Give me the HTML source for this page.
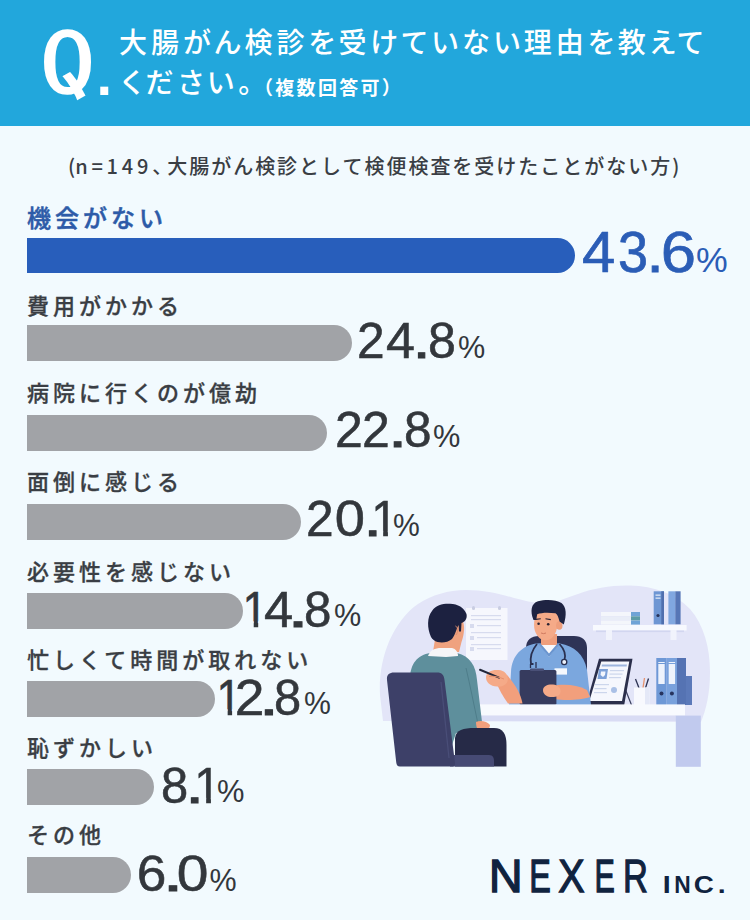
<!DOCTYPE html>
<html lang="ja">
<head>
<meta charset="utf-8">
<style>
*{margin:0;padding:0;box-sizing:border-box}
html,body{width:750px;height:920px;overflow:hidden}
body{background:#F2FAFE;position:relative;font-family:"Liberation Sans","Noto Sans CJK JP",sans-serif}
.hd{position:absolute;left:0;top:0;width:750px;height:125.5px;background:#22A7DC}
.q{position:absolute;left:39.5px;top:21px;font-family:"IPAGothic",sans-serif;font-size:86px;line-height:1;color:#fff;font-weight:400;-webkit-text-stroke:1.6px #fff;transform:scaleX(1.28);transform-origin:0 0}
.qd{position:absolute;left:96.6px;top:48px;font-family:"Liberation Sans",sans-serif;font-size:56px;font-weight:700;line-height:1;color:#fff}
.t1,.t2,.t3{position:absolute;color:#fff;font-family:"Noto Sans CJK JP",sans-serif;font-weight:500;white-space:nowrap;line-height:1}
.t1{left:119px;top:26.8px;font-size:28px;letter-spacing:4px;font-feature-settings:"palt" 1}
.t2{left:122px;top:67px;font-size:28px;letter-spacing:4.25px;font-feature-settings:"palt" 1}
.t3{left:254px;top:77px;font-size:19px;font-weight:700;letter-spacing:2.3px}
.sub{position:absolute;left:68px;top:156px;font-family:"Noto Sans CJK JP",sans-serif;font-weight:500;font-size:20px;letter-spacing:1.98px;color:#3a3e44;white-space:nowrap;line-height:1}
.sub .la{letter-spacing:3.8px}
.sub .p0{letter-spacing:0}
.sub .cm{letter-spacing:-5px}
.lbl{position:absolute;left:27px;font-family:"Noto Sans CJK JP",sans-serif;font-weight:500;font-size:22px;letter-spacing:4px;color:#3a3e44;white-space:nowrap;line-height:1}
.lbl{-webkit-text-stroke:0.3px #3a3e44}
.lbl.b{color:#2D5BA8;font-size:24px;-webkit-text-stroke:0.5px #2D5BA8}
.bar{position:absolute;left:27px;background:#A1A3A7;border-radius:0 18px 18px 0}
.bar.b{background:#285EBB}
.num{position:absolute;left:0;top:0;font-family:"Liberation Sans",sans-serif;color:#33373c;white-space:nowrap}
.num span{position:absolute;display:block;line-height:1}
.num.b{color:#2B5DB6}
.logo{position:absolute;left:0;top:0;font-family:"Liberation Sans",sans-serif;color:#10233F;white-space:nowrap}
.logo span{position:absolute;display:block;line-height:1}
svg.il{position:absolute;left:0;top:0}

</style>
</head>
<body>
<div class="hd"></div>
<div class="q">Q</div><div class="qd">.</div>
<div class="t1">大腸がん検診を受けていない理由を教えて</div>
<div class="t2">ください。</div>
<div class="t3">（複数回答可）</div>
<div class="sub"><span class="p0">(</span><span class="la">n=149</span><span class="cm">、</span>大腸がん検診として検便検査を受けたことがない方)</div>
<svg class="il" width="750" height="920" viewBox="0 0 750 920">
<!-- lavender backdrop blob -->
<path d="M383,721 L380,695 C378,660 392,622 418,604 C432,595 448,590 466,590 C484,590 500,594 514,598 C526,601 534,603 544,603 C556,603 566,598 578,594 C594,588 612,585 630,585.5 C654,586 676,594 690,609 C704,625 710,648 710,672 C710,694 706,710 701,722 Z" fill="#E3E5F8"/>
<!-- wall paper -->
<rect x="466" y="608" width="41.5" height="52" fill="#F6F7FD"/>
<g fill="#D7DBEE">
<rect x="472" y="606" width="3" height="4" rx="1.5" fill="#C9CDE2"/>
<rect x="498" y="606" width="3" height="4" rx="1.5" fill="#C9CDE2"/>
<rect x="471" y="615" width="30" height="1.2"/>
<rect x="471" y="619" width="30" height="1.2"/>
<rect x="470" y="624" width="4" height="4"/>
<rect x="477" y="625" width="24" height="1.2"/>
<rect x="471" y="632" width="30" height="1.2"/>
<rect x="470" y="636" width="4" height="4"/>
<rect x="477" y="637" width="24" height="1.2"/>
<rect x="471" y="644" width="30" height="1.2"/>
<rect x="470" y="647" width="4" height="4"/>
<rect x="477" y="648" width="24" height="1.2"/>
</g>
<!-- shelf with books & binders -->
<rect x="601" y="612" width="39" height="4" fill="#F4F6FB"/>
<rect x="601" y="616.3" width="39" height="4" fill="#E9EDF7"/>
<rect x="601" y="620.6" width="39" height="4" fill="#F4F6FB"/>
<rect x="631" y="612" width="9" height="4.2" fill="#6FA3D6"/>
<rect x="631" y="616.3" width="9" height="4.2" fill="#5C9BA6"/>
<rect x="631" y="620.6" width="9" height="4" fill="#6FA3D6"/>
<rect x="653.7" y="591.3" width="10.3" height="33" fill="#6E96D3"/>
<rect x="661.3" y="591.3" width="2.7" height="33" fill="#4F6FAE"/>
<rect x="655.5" y="594.5" width="5" height="1.3" fill="#DDE6F6"/>
<rect x="655.5" y="597.5" width="5" height="1.3" fill="#DDE6F6"/>
<circle cx="658" cy="615.5" r="1.6" fill="#27335A"/>
<rect x="668.4" y="591.3" width="7" height="33" fill="#80A7E0"/>
<rect x="675.3" y="591.3" width="5.3" height="33" fill="#5676B6"/>
<rect x="593" y="625" width="93.6" height="5.5" fill="#F7F9FE"/>
<rect x="596" y="630.5" width="88" height="1.6" fill="#D2D6F0"/>
<rect x="606" y="630" width="6" height="10" fill="#F1F3FC"/>
<rect x="670.5" y="630" width="6" height="10" fill="#F1F3FC"/>
<!-- desk binders -->
<rect x="656.3" y="658" width="10.4" height="47" fill="#6E98D6"/>
<rect x="666.7" y="658" width="10.3" height="47" fill="#79A1DC"/>
<rect x="677" y="658" width="9" height="47" fill="#5573B3"/>
<rect x="686" y="676" width="6" height="29" fill="#5B79B9"/>
<rect x="658.3" y="664" width="6.4" height="20" fill="#EEF3FC"/>
<rect x="668.7" y="664" width="6.4" height="20" fill="#EEF3FC"/>
<rect x="658.3" y="662" width="6.4" height="1" fill="#EEF3FC"/>
<rect x="668.7" y="662" width="6.4" height="1" fill="#EEF3FC"/>
<circle cx="661.5" cy="693.5" r="2" fill="#26335E"/>
<circle cx="671.9" cy="693.5" r="2" fill="#26335E"/>
<!-- pen cup -->
<path d="M635.5,679 L639,688" stroke="#2A3050" stroke-width="1.3"/>
<path d="M644.5,678 L643,688" stroke="#E6936E" stroke-width="1.3"/>
<path d="M648.5,678.5 L645.5,688" stroke="#2A3050" stroke-width="1.3"/>
<rect x="634" y="687.5" width="15.5" height="17.5" fill="#F8F9FE"/>
<rect x="645" y="687.5" width="4.5" height="17.5" fill="#E4E8F7"/>
<!-- tablet -->
<path d="M624,686 L631.5,705" stroke="#3A3F5E" stroke-width="1.2"/>
<path d="M599,658.8 L632.5,658.8 L624.2,705 L586,705 Z" fill="#2B2F4B"/>
<path d="M601.3,661.6 L629.3,661.6 L622,701 L589.3,701 Z" fill="#F5F7FD"/>
<path d="M602,664.5 L627,664.5 L626.6,666.5 L601.6,666.5 Z" fill="#9DB5DE"/>
<path d="M599,669 L608,669 L606.5,679 L597.5,679 Z" fill="#7DA1D8"/>
<path d="M601,671.5 L605.5,671.5 L605,675 L603,677 L600.5,675 Z" fill="#F3F6FD"/>
<g fill="#CCD6EC"><rect x="610" y="670" width="14" height="1.2"/><rect x="609.5" y="673.5" width="13" height="1.2"/><rect x="609" y="677" width="12" height="1.2"/><rect x="595" y="684" width="14" height="1.2"/><rect x="594.5" y="688" width="12" height="1.2"/><rect x="594" y="692" width="13" height="1.2"/></g>
<circle cx="614" cy="690" r="3" fill="#A9C0E6"/>
<!-- doctor chair -->
<path d="M526,648 C526,640 531,636 539,636 L574,636 C582,636 587,640 587,648 L587,672 L526,672 Z" fill="#2E3356"/>
<!-- doctor body -->
<path d="M509,705 L511,672 C512,655 522,646 536,643.5 L560,643.5 C574,646 584,654 587,670 L591,705 Z" fill="#7BA7DE"/>
<path d="M541,634 L557,634 L557,648 L541,648 Z" fill="#EE9E7C"/>
<path d="M540.5,645 L557.5,645 L549,657 Z" fill="#F7F8FC"/>
<path d="M538,643.5 L549,657 L560,643.5 L557.5,643.5 L549,653.5 L540.5,643.5 Z" fill="#6A95CF"/>
<!-- face & hair -->
<ellipse cx="545.6" cy="624.5" rx="11.6" ry="15.8" fill="#F5AA88"/>
<rect x="552" y="611" width="7.5" height="18" fill="#F5AA88"/>
<ellipse cx="559.3" cy="625.5" rx="3.2" ry="4.3" fill="#EE9E7C"/>
<path d="M533.5,620 C530,611 531,603.5 538,601.2 C546,599 556,599.5 561.5,603 C566.5,607 566.8,615 563.8,624.5 L559.5,621.5 C558.5,617.5 557.5,614.5 555.5,613.3 C548,612.2 541.5,612.5 537.2,614.2 L536.2,620 Z" fill="#1E2342"/>
<circle cx="538.6" cy="623.8" r="1.3" fill="#2A2233"/>
<circle cx="548.2" cy="624.2" r="1.3" fill="#2A2233"/>
<path d="M535.8,619.4 L540.8,618.8" stroke="#2A2233" stroke-width="1.1"/>
<path d="M545.5,618.8 L550.8,619.6" stroke="#2A2233" stroke-width="1.1"/>
<path d="M541,633 Q543.5,634.3 546,633" stroke="#C9745A" stroke-width="0.9" fill="none"/>
<!-- stethoscope -->
<path d="M537,644 C532,650 530,658 531,664 M531,664 L533.5,664" stroke="#2A3050" stroke-width="1.8" fill="none"/>
<path d="M559.5,644 C565,650 566,655 564.5,660" stroke="#2A3050" stroke-width="1.8" fill="none"/>
<circle cx="564.2" cy="662" r="2.6" fill="#EEF2FA" stroke="#2A3050" stroke-width="1.3"/>
<path d="M530.5,664 L530.5,668 M536,662 L536,668" stroke="#2A3050" stroke-width="1.3"/>
<rect x="554.5" y="668.3" width="12.5" height="6.3" fill="#F5F8FD"/>
<!-- right forearm -->
<path d="M552,686 C562,684 576,684 587,690 L590,697 C582,700 565,701 555,699 Z" fill="#F29F7C"/>
<!-- clipboard -->
<rect x="519.6" y="670" width="36.8" height="34.8" rx="1.5" fill="#363B5E"/>
<rect x="530" y="668.5" width="14" height="2.6" rx="1" fill="#4A5077"/>
<!-- right hand -->
<path d="M543,690 C543,686 548,684 553,684.5 C558,685 561,688 560.5,692 C560,696 556,697.5 550,697 C546,696.5 543,694 543,690 Z" fill="#F5AA88"/>
<!-- left forearm + hand -->
<path d="M495,680 C499,689 503,697 508,703.5 L522.5,703.5 C521,694 515,684 507,675 Z" fill="#F29F7C"/>
<path d="M486,677 C486.5,671.5 492,669.5 498.5,670 C504.5,670.5 508,674 507.8,679.5 C507.5,684.5 503,687 497,686.6 C490.5,686.2 485.8,682.5 486,677 Z" fill="#F5AA88"/>
<path d="M480,669.8 L499,677.6" stroke="#22263A" stroke-width="2" stroke-linecap="round"/>
<path d="M489,676.5 C493,675.5 499,677 504,679" stroke="#E58F6D" stroke-width="1" fill="none"/>
<!-- desk -->
<rect x="480" y="704.4" width="205" height="11.2" fill="#F8FAFE"/>
<rect x="480" y="715.6" width="196" height="5.4" fill="#D9DCF4"/>
<rect x="675.8" y="715.6" width="25" height="51.2" fill="#C1CAEE"/>
<!-- patient -->
<path d="M433,652 L435,639 C444,640 451,635 454,623 L462.5,620.5 C465,625 464.5,634 461.5,642 L459,652 Z" fill="#EFA27F"/>
<path d="M410,680 C410,663 418,655 430,653 L457,653 C470,656 476,666 477,680 L482,722 C483,728 480,731 474,731 L456,733 L452,745 L443,745 Z" fill="#5E8F9C"/>
<path d="M466,668 C470,685 474,705 478,724" stroke="#4E7D8A" stroke-width="1" fill="none"/>
<path d="M428,656 C430,650 435,648 441,648 L452,648 C456,649 458,652 458,656 L446,657 Z" fill="#F5F5F7"/>
<path d="M431,637 C427,628 427,617 432,611 C436,605 443,603.5 450,603.8 C458,604.2 464,607.5 466.5,614 C467.5,618.5 465,622 461.5,623 L461,631.5 L459,631.5 L458.6,625 C456,630 455.5,634 452,639 C448,642.5 442,643 437.5,642 C434.5,641 432.5,639.5 431,637 Z" fill="#1C2140"/>
<path d="M455.5,626 C458,627 458.5,632 456,635" stroke="#DD8C6C" stroke-width="1" fill="none"/>
<path d="M476,722 C480,720 487,721 490,725 C490,729 486,731 481,731 C478,731 476,728 476,722 Z" fill="#F29F7C"/>
<path d="M455,738 C456,730 463,728 475,728 L494,728 C503,728 506.5,734 506.5,745 L506.5,766.5 L455,766.5 Z" fill="#262A47"/>
<!-- patient chair -->
<path d="M450,755 L489,755 C493,755 494,758 494,761 L494,766.5 L450,766.5 Z" fill="#464A74"/>
<path d="M387,680 C386.5,675 389,672.5 394,672.5 L437,672.5 C442,672.5 444,675 444.5,680 L455,763 C455.3,765.5 454,766.5 451.5,766.5 L400,766.5 C397.5,766.5 396.5,765 396.2,762 Z" fill="#3D4068"/>
<path d="M441,682 L449,758" stroke="#4A4E78" stroke-width="1.2" fill="none"/>
</svg>

<div id="l1" class="lbl b" style="top:204.6px">機会がない</div>
<div id="b1" class="bar b" style="top:238.2px;height:35.3px;width:547.8px"></div>
<div id="n1" class="num b"><span style="left:582.4px;top:223.9px;font-size:57.5px;transform:scaleX(1.041);transform-origin:1.0px 0;-webkit-text-stroke:0.7px currentColor;">4</span><span style="left:617.6px;top:223.9px;font-size:57.5px;transform:scaleX(0.941);transform-origin:2.0px 0;-webkit-text-stroke:0.7px currentColor;">3</span><span style="left:647.0px;top:223.9px;font-size:57.5px;transform:scaleX(1.083);transform-origin:5.0px 0;-webkit-text-stroke:0.9px currentColor;">.</span><span style="left:661.0px;top:223.9px;font-size:57.5px;transform:scaleX(1.104);transform-origin:3.0px 0;-webkit-text-stroke:0.7px currentColor;">6</span><span style="left:696.2px;top:242.9px;font-size:34.5px;transform:scaleX(1.034);transform-origin:1.0px 0;">%</span></div>
<div id="l2" class="lbl" style="top:292.5px">費用がかかる</div>
<div id="b2" class="bar" style="top:324.9px;height:35.8px;width:324.6px"></div>
<div id="n2" class="num"><span style="left:357.4px;top:315.6px;font-size:50.0px;transform:scaleX(0.993);transform-origin:3.0px 0;-webkit-text-stroke:0.55px currentColor;">2</span><span style="left:385.6px;top:315.6px;font-size:50.0px;transform:scaleX(1.042);transform-origin:1.0px 0;-webkit-text-stroke:0.55px currentColor;">4</span><span style="left:414.4px;top:315.6px;font-size:50.0px;transform:scaleX(1.312);transform-origin:5.0px 0;-webkit-text-stroke:0.9px currentColor;">.</span><span style="left:428.0px;top:315.6px;font-size:50.0px;transform:scaleX(1.002);transform-origin:2.0px 0;-webkit-text-stroke:0.55px currentColor;">8</span><span style="left:458.0px;top:331.5px;font-size:30.5px;transform:scaleX(1.004);transform-origin:1.0px 0;">%</span></div>
<div id="l3" class="lbl" style="top:379.5px">病院に行くのが億劫</div>
<div id="b3" class="bar" style="top:414.9px;height:35.8px;width:299.8px"></div>
<div id="n3" class="num"><span style="left:334.9px;top:405.1px;font-size:50.0px;transform:scaleX(0.998);transform-origin:3.0px 0;-webkit-text-stroke:0.55px currentColor;">2</span><span style="left:361.8px;top:405.1px;font-size:50.0px;transform:scaleX(0.998);transform-origin:3.0px 0;-webkit-text-stroke:0.55px currentColor;">2</span><span style="left:390.1px;top:405.1px;font-size:50.0px;transform:scaleX(1.388);transform-origin:5.0px 0;-webkit-text-stroke:0.9px currentColor;">.</span><span style="left:403.5px;top:405.1px;font-size:50.0px;transform:scaleX(0.990);transform-origin:2.0px 0;-webkit-text-stroke:0.55px currentColor;">8</span><span style="left:432.8px;top:420.9px;font-size:30.5px;transform:scaleX(1.008);transform-origin:1.0px 0;">%</span></div>
<div id="l4" class="lbl" style="top:468.5px">面倒に感じる</div>
<div id="b4" class="bar" style="top:504.0px;height:35.6px;width:273.8px"></div>
<div id="n4" class="num"><span style="left:306.1px;top:493.9px;font-size:50.0px;transform:scaleX(0.993);transform-origin:3.0px 0;-webkit-text-stroke:0.55px currentColor;">2</span><span style="left:335.0px;top:493.9px;font-size:50.0px;transform:scaleX(1.085);transform-origin:2.0px 0;-webkit-text-stroke:0.55px currentColor;">0</span><span style="left:364.6px;top:493.9px;font-size:50.0px;transform:scaleX(1.363);transform-origin:5.0px 0;-webkit-text-stroke:0.9px currentColor;">.</span><span style="left:370.6px;top:493.9px;font-size:50.0px;transform:scaleX(0.954);transform-origin:5.0px 0;clip-path:polygon(-20px -20px,80px -20px,80px 36.8px,17.5px 36.8px,17.5px 80px,12.5px 80px,12.5px 36.8px,-20px 36.8px);-webkit-text-stroke:0.55px currentColor;">1</span><span style="left:393.0px;top:509.6px;font-size:30.5px;transform:scaleX(0.988);transform-origin:1.0px 0;">%</span></div>
<div id="l5" class="lbl" style="top:559px">必要性を感じない</div>
<div id="b5" class="bar" style="top:593.2px;height:35.6px;width:215.8px"></div>
<div id="n5" class="num"><span style="left:242.2px;top:584.5px;font-size:50.0px;transform:scaleX(0.896);transform-origin:5.0px 0;clip-path:polygon(-20px -20px,80px -20px,80px 36.8px,17.5px 36.8px,17.5px 80px,12.5px 80px,12.5px 36.8px,-20px 36.8px);-webkit-text-stroke:0.55px currentColor;">1</span><span style="left:263.6px;top:584.5px;font-size:50.0px;transform:scaleX(1.050);transform-origin:1.0px 0;-webkit-text-stroke:0.55px currentColor;">4</span><span style="left:289.9px;top:584.5px;font-size:50.0px;transform:scaleX(1.588);transform-origin:5.0px 0;-webkit-text-stroke:0.9px currentColor;">.</span><span style="left:304.2px;top:584.5px;font-size:50.0px;transform:scaleX(0.985);transform-origin:2.0px 0;-webkit-text-stroke:0.55px currentColor;">8</span><span style="left:333.5px;top:600.0px;font-size:30.5px;transform:scaleX(1.004);transform-origin:1.0px 0;">%</span></div>
<div id="l6" class="lbl" style="top:647px">忙しくて時間が取れない</div>
<div id="b6" class="bar" style="top:680.8px;height:36.0px;width:187.8px"></div>
<div id="n6" class="num"><span style="left:215.9px;top:672.5px;font-size:50.0px;transform:scaleX(0.888);transform-origin:5.0px 0;clip-path:polygon(-20px -20px,80px -20px,80px 36.8px,17.5px 36.8px,17.5px 80px,12.5px 80px,12.5px 36.8px,-20px 36.8px);-webkit-text-stroke:0.55px currentColor;">1</span><span style="left:234.7px;top:672.5px;font-size:50.0px;transform:scaleX(1.066);transform-origin:3.0px 0;-webkit-text-stroke:0.55px currentColor;">2</span><span style="left:260.7px;top:672.5px;font-size:50.0px;transform:scaleX(1.463);transform-origin:5.0px 0;-webkit-text-stroke:0.9px currentColor;">.</span><span style="left:274.1px;top:672.5px;font-size:50.0px;transform:scaleX(0.977);transform-origin:2.0px 0;-webkit-text-stroke:0.55px currentColor;">8</span><span style="left:303.6px;top:688.0px;font-size:30.5px;transform:scaleX(0.992);transform-origin:1.0px 0;">%</span></div>
<div id="l7" class="lbl" style="top:734.5px">恥ずかしい</div>
<div id="b7" class="bar" style="top:769.2px;height:35.6px;width:127.0px"></div>
<div id="n7" class="num"><span style="left:160.6px;top:760.9px;font-size:50.0px;transform:scaleX(0.977);transform-origin:2.0px 0;-webkit-text-stroke:0.55px currentColor;">8</span><span style="left:187.0px;top:760.9px;font-size:50.0px;transform:scaleX(1.362);transform-origin:5.0px 0;-webkit-text-stroke:0.9px currentColor;">.</span><span style="left:194.3px;top:760.9px;font-size:50.0px;transform:scaleX(0.954);transform-origin:5.0px 0;clip-path:polygon(-20px -20px,80px -20px,80px 36.8px,17.5px 36.8px,17.5px 80px,12.5px 80px,12.5px 36.8px,-20px 36.8px);-webkit-text-stroke:0.55px currentColor;">1</span><span style="left:216.7px;top:776.4px;font-size:30.5px;transform:scaleX(1.012);transform-origin:1.0px 0;">%</span></div>
<div id="l8" class="lbl" style="top:821.5px">その他</div>
<div id="b8" class="bar" style="top:857.0px;height:35.6px;width:103.8px"></div>
<div id="n8" class="num"><span style="left:137.4px;top:849.1px;font-size:50.0px;transform:scaleX(1.063);transform-origin:3.0px 0;-webkit-text-stroke:0.55px currentColor;">6</span><span style="left:164.8px;top:849.1px;font-size:50.0px;transform:scaleX(1.512);transform-origin:5.0px 0;-webkit-text-stroke:0.9px currentColor;">.</span><span style="left:177.3px;top:849.1px;font-size:50.0px;transform:scaleX(1.140);transform-origin:2.0px 0;-webkit-text-stroke:0.55px currentColor;">0</span><span style="left:209.5px;top:865.0px;font-size:30.5px;transform:scaleX(1.000);transform-origin:1.0px 0;">%</span></div>
<div class="logo"><span style="-webkit-text-stroke:1.3px #10233F;left:488.8px;top:852.2px;font-size:47px;font-weight:400;transform:scaleX(1.000);transform-origin:4.0px 0">N</span><span style="-webkit-text-stroke:1.3px #10233F;left:528.0px;top:852.2px;font-size:47px;font-weight:400;transform:scaleX(0.688);transform-origin:4.0px 0">E</span><span style="-webkit-text-stroke:1.3px #10233F;left:558.2px;top:852.2px;font-size:47px;font-weight:400;transform:scaleX(0.841);transform-origin:1.0px 0">X</span><span style="-webkit-text-stroke:1.3px #10233F;left:593.3px;top:852.2px;font-size:47px;font-weight:400;transform:scaleX(0.648);transform-origin:4.0px 0">E</span><span style="-webkit-text-stroke:1.3px #10233F;left:621.9px;top:852.2px;font-size:47px;font-weight:400;transform:scaleX(0.732);transform-origin:4.0px 0">R</span><span style="left:663.2px;top:873.0px;font-size:24.5px;font-weight:700;transform:scaleX(1.167);transform-origin:2.0px 0">I</span><span style="left:673.6px;top:873.0px;font-size:24.5px;font-weight:700;transform:scaleX(0.929);transform-origin:2.0px 0">N</span><span style="left:693.7px;top:873.0px;font-size:24.5px;font-weight:700;transform:scaleX(1.137);transform-origin:1.0px 0">C</span><span style="left:717.8px;top:873.0px;font-size:24.5px;font-weight:700;transform:scaleX(1.167);transform-origin:2.0px 0">.</span></div>
</body>
</html>
